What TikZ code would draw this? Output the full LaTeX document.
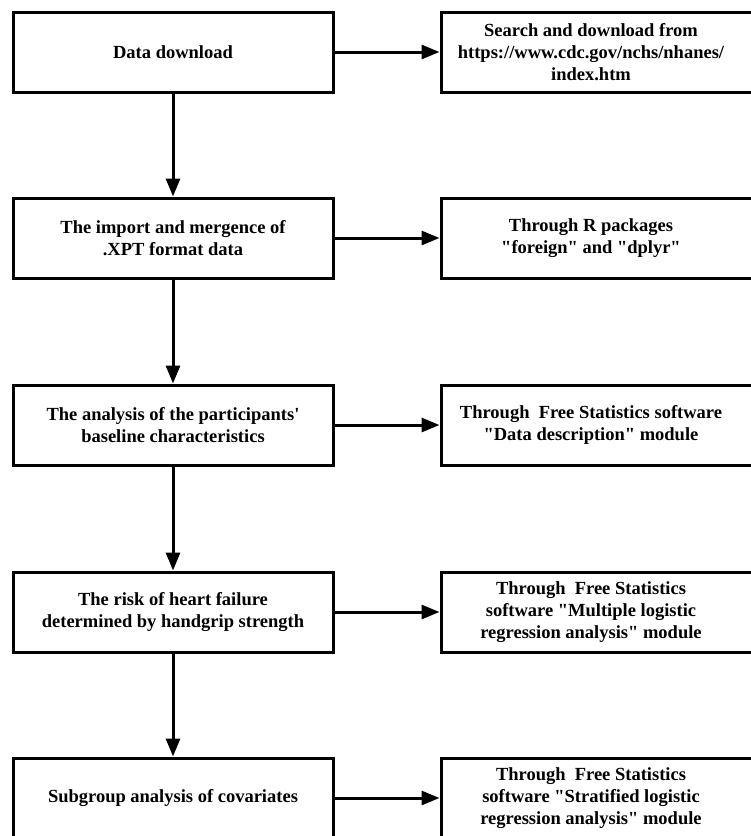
\documentclass[tikz,border=0pt]{standalone}
\usepackage{fontspec}
\setmainfont{Liberation Serif}[Ligatures=TeXOff]
\usetikzlibrary{arrows.meta}
\tikzset{
  leftbox/.style={draw, line width=3pt, minimum width=320pt, minimum height=80pt, inner sep=0pt},
  rightbox/.style={draw, line width=3pt, minimum width=330pt, minimum height=80pt, inner sep=0pt},
  boxtext/.style={align=center, font=\fontsize{18.5}{22}\selectfont\bfseries, inner sep=0pt},
  flow/.style={line width=3pt, -{Triangle[length=18pt,width=14pt]}}
}
\begin{document}
\begin{tikzpicture}[x=1pt,y=-1pt]
\useasboundingbox (0,0) rectangle (751,836);
\clip (0,0) rectangle (751,836);
% left boxes
\node[leftbox] (L1) at (173,52) {};
\node[leftbox] (L2) at (173,238) {};
\node[leftbox] (L3) at (173,425) {};
\node[leftbox] (L4) at (173,612) {};
\node[leftbox] (L5) at (173,798) {};
% right boxes (extend past right edge)
\node[rightbox] (R1) at (606,52) {};
\node[rightbox] (R2) at (606,238) {};
\node[rightbox] (R3) at (606,425) {};
\node[rightbox] (R4) at (606,612) {};
\node[rightbox] (R5) at (606,798) {};
% texts
\node[boxtext] (tL1) at (173,52) {Data download};
\node[boxtext] (tL2) at (173,238) {The import and mergence of\\.XPT format data};
\node[boxtext] (tL3) at (173,425) {The analysis of the participants'\\baseline characteristics};
\node[boxtext] (tL4) at (173,612) {The risk of heart failure\\determined by handgrip strength};
\node[boxtext] (tL5) at (173,798) {Subgroup analysis of covariates};
\node[boxtext] (tR1) at (591,52) {Search and download from\\https://www.cdc.gov/nchs/nhanes/\\index.htm};
\node[boxtext] (tR2) at (591,238) {Through R packages\\"foreign" and "dplyr"};
\node[boxtext] (tR3) at (591,425) {Through\ \ Free Statistics software\\"Data description" module};
\node[boxtext] (tR4) at (591,612) {Through\ \ Free Statistics\\software "Multiple logistic\\regression analysis" module};
\node[boxtext] (tR5) at (591,798) {Through\ \ Free Statistics\\software "Stratified logistic\\regression analysis" module};
% connectors
\draw[flow] (L1.south) -- (L2.north);
\draw[flow] (L2.south) -- (L3.north);
\draw[flow] (L3.south) -- (L4.north);
\draw[flow] (L4.south) -- (L5.north);
\draw[flow] (L1.east) -- (R1.west);
\draw[flow] (L2.east) -- (R2.west);
\draw[flow] (L3.east) -- (R3.west);
\draw[flow] (L4.east) -- (R4.west);
\draw[flow] (L5.east) -- (R5.west);
\end{tikzpicture}
\end{document}
